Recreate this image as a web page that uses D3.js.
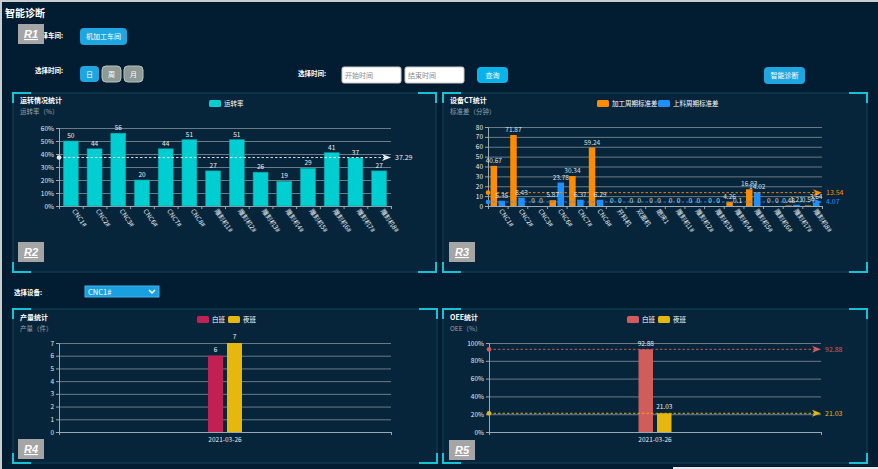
<!DOCTYPE html>
<html><head><meta charset="utf-8">
<script src="https://cdn.jsdelivr.net/npm/d3@7"></script>
<style>
html,body{margin:0;padding:0;background:#021d31;}
svg{display:block;font-family:"Noto Sans CJK SC","Noto Sans",sans-serif;}
</style></head>
<body>
<svg id="c" width="878" height="469"></svg>
<script>
// ---------- data ----------
const runCats = ["CNC1#","CNC2#","CNC3#","CNC6#","CNC7#","CNC8#","雕刻机1#","雕刻机2#","雕刻机3#","雕刻机4#","雕刻机5#","雕刻机6#","雕刻机7#","雕刻机8#"];
const runRate = [50,44,56,20,44,51,27,51,26,19,29,41,37,27];
const runTicks = [0,10,20,30,40,50,60];

const ctCats = ["CNC1#","CNC2#","CNC3#","CNC6#","CNC7#","CNC8#","开料机","双面机","磨床1","雕刻机1#","雕刻机2#","雕刻机3#","雕刻机4#","雕刻机5#","雕刻机6#","雕刻机7#","雕刻机8#"];
const ctProc = [40.67,71.87,0,5.87,30.34,59.24,0,0,0,0,0,0,4.26,16.93,0,0.48,0.54];
const ctLoad = [5.35,8.43,0,23.78,6.37,6.29,0,0,0,0,0,0,0.10,14.02,0,1.21,3.64];
const ctTicks = [0,10,20,30,40,50,60,70,80];

const outDates = ["2021-03-26"];
const outDay = [6];
const outNight = [7];
const outTicks = [0,1,2,3,4,5,6,7];

const oeeDates = ["2021-03-26"];
const oeeDay = [92.88];
const oeeNight = [21.03];
const oeeTicks = [0,20,40,60,80,100];

// ---------- style ----------
const pageBg = "#021d31", panelBg = "#07253a", panelBorder = "#134457", cornerCol = "#12c3d6";
const gridCol = "#6a7b87", axisCol = "#9aa8b2", tickText = "#e6ecef";
const svg = d3.select("#c");
svg.append("rect").attr("width",878).attr("height",469).attr("fill",pageBg);
svg.append("rect").attr("x",0).attr("y",0).attr("width",878).attr("height",2).attr("fill","#c9cdd0");
svg.append("rect").attr("x",0).attr("y",0).attr("width",2).attr("height",469).attr("fill","#c9cdd0");
svg.append("rect").attr("x",673).attr("y",467).attr("width",205).attr("height",2).attr("fill","#e4e6e8");

// ---------- header ----------
svg.append("text").attr("x",5).attr("y",17).text("智能诊断").attr("fill","#fff").attr("font-size",10).attr("font-weight","bold");
function label(x,y,t){svg.append("text").attr("x",x).attr("y",y).text(t).attr("fill","#fff").attr("font-size",6.5).attr("font-weight","bold").attr("text-anchor","end");}
function btn(x,y,w,h,t,fill,stroke,tc){
  svg.append("rect").attr("x",x).attr("y",y).attr("width",w).attr("height",h).attr("rx",4).attr("fill",fill).attr("stroke",stroke||"none");
  svg.append("text").attr("x",x+w/2).attr("y",y+h/2+2.5).text(t).attr("fill",tc||"#fff").attr("font-size",7).attr("text-anchor","middle");
}
label(63,38,"选择车间:");
btn(80,28,47,17,"机加工车间","#1ea6e0");
label(63,73,"选择时间:");
btn(80,66,19,16,"日","#1ea6e0");
btn(102,66,19,16,"周","#8d9a96","#b9c4c0");
btn(124,66,19,16,"月","#8d9a96","#b9c4c0");
label(326,76,"选择时间:");
function input(x,t){
  svg.append("rect").attr("x",x).attr("y",67).attr("width",59).attr("height",16).attr("rx",2).attr("fill","#fff").attr("stroke","#c8c8c8");
  svg.append("text").attr("x",x+3).attr("y",78).text(t).attr("fill","#8a8a8a").attr("font-size",7);
}
input(342,"开始时间"); input(405,"结束时间");
btn(477,67,31,16,"查询","#0ab2ea");
btn(764,67,41,17,"智能诊断","#1ea6e0");
label(42,295,"选择设备:");
svg.append("rect").attr("x",85).attr("y",286).attr("width",74).attr("height",11).attr("fill","#1a9fe0").attr("stroke","#3fb4ea");
svg.append("text").attr("x",88).attr("y",294.5).text("CNC1#").attr("fill","#fff").attr("font-size",7.5);
svg.append("path").attr("d","M149,290 L152,293 L155,290").attr("fill","none").attr("stroke","#fff").attr("stroke-width",1.5);

// ---------- panels ----------
function panel(x,y,w,h){
  svg.append("rect").attr("x",x).attr("y",y).attr("width",w).attr("height",h).attr("fill",panelBg).attr("stroke",panelBorder).attr("stroke-width",1);
  const L=18,V=10,g=svg.append("g").attr("fill","none").attr("stroke",cornerCol).attr("stroke-width",2);
  g.append("path").attr("d",`M${x+L},${y} H${x} V${y+V}`);
  g.append("path").attr("d",`M${x+w-L},${y} H${x+w} V${y+V}`);
  g.append("path").attr("d",`M${x+L},${y+h} H${x} V${y+h-V}`);
  g.append("path").attr("d",`M${x+w-L},${y+h} H${x+w} V${y+h-V}`);
}
panel(13,93,423,179);
panel(443,93,424,179);
panel(13,309,424,154);
panel(443,309,424,154);

function titles(x,y,t,s){
  svg.append("text").attr("x",x).attr("y",y).text(t).attr("fill","#fff").attr("font-size",7).attr("font-weight","bold");
  svg.append("text").attr("x",x).attr("y",y+11).text(s).attr("fill","#95a3ad").attr("font-size",6.5);
}
function legend(items,y){
  items.forEach(it=>{
    svg.append("rect").attr("x",it.x).attr("y",y-6).attr("width",12).attr("height",7).attr("rx",1.5).attr("fill",it.c);
    svg.append("text").attr("x",it.x+15).attr("y",y).text(it.t).attr("fill","#fff").attr("font-size",6.5);
  });
}

// generic chart frame
function frame(x0,x1,yTop,yBot,cats,ticks,fmt,rot){
  const x = d3.scaleBand().domain(cats).range([x0,x1]);
  const y = d3.scaleLinear().domain([ticks[0],ticks[ticks.length-1]]).range([yBot,yTop]);
  // grid
  svg.append("g").attr("transform",`translate(${x0},0)`)
    .call(d3.axisLeft(y).tickValues(ticks).tickSize(-(x1-x0)).tickFormat(""))
    .call(g=>{g.select(".domain").remove();g.selectAll("line").attr("stroke",gridCol).attr("stroke-width",1);});
  // y axis
  svg.append("g").attr("transform",`translate(${x0},0)`)
    .call(d3.axisLeft(y).tickValues(ticks).tickSize(3).tickPadding(2).tickFormat(fmt))
    .call(g=>{g.select(".domain").attr("stroke",axisCol);g.selectAll("line").attr("stroke",axisCol);
      g.selectAll("text").attr("fill",tickText).attr("font-size",6.5).attr("font-family","Noto Sans CJK SC");});
  // x axis line + boundary ticks
  const xb = d3.scaleLinear().domain([0,cats.length]).range([x0,x1]);
  svg.append("g").attr("transform",`translate(0,${yBot})`)
    .call(d3.axisBottom(xb).tickValues(d3.range(cats.length+1)).tickSize(3).tickFormat(""))
    .call(g=>{g.select(".domain").attr("stroke",axisCol);g.selectAll("line").attr("stroke",axisCol);});
  // labels
  const lab = svg.append("g").attr("transform",`translate(0,${yBot})`)
    .call(d3.axisBottom(x).tickSize(0).tickPadding(rot?4:5))
    .call(g=>{g.select(".domain").remove();
      g.selectAll("text").attr("fill",tickText).attr("font-size",6.5).attr("font-family","Noto Sans CJK SC");});
  if(rot){
    lab.selectAll(".tick text").attr("text-anchor","start").attr("dy",0).attr("y",0)
      .attr("transform","translate(1,5) rotate(55)");
  }
  return {x,y};
}
function markLine(x0,x1,y,v,col,labCol){
  const yy=y(v);
  svg.append("line").attr("x1",x0).attr("x2",x1-6).attr("y1",yy).attr("y2",yy)
    .attr("stroke",col).attr("stroke-width",0.9).attr("stroke-dasharray","2.5,2");
  svg.append("circle").attr("cx",x0).attr("cy",yy).attr("r",2.3).attr("fill",col);
  svg.append("path").attr("d",`M${x1},${yy} L${x1-9},${yy-3.5} L${x1-6.5},${yy} L${x1-9},${yy+3.5} Z`).attr("fill",col);
  svg.append("text").attr("x",x1+4).attr("y",yy+2.5).text(d3.format(".2f")(v)).attr("fill",labCol||col).attr("font-size",7);
}
function valLabel(x,y,t,col){
  svg.append("text").attr("x",x).attr("y",y).text(t).attr("fill",col||"#e8eef0").attr("font-size",6.5).attr("text-anchor","middle");
}

// ---------- R2 运转情况统计 ----------
titles(20,103,"运转情况统计","运转率（%）");
legend([{x:209,c:"#00ced1",t:"运转率"}],106);
{
  const {x,y}=frame(59,391,128,206,runCats,runTicks,d=>d+"%",true);
  const bw=x.bandwidth()*0.63;
  svg.append("g").selectAll("rect").data(runRate).join("rect")
    .attr("x",(d,i)=>x(runCats[i])+x.bandwidth()/2-bw/2).attr("width",bw)
    .attr("y",d=>y(d)).attr("height",d=>y(0)-y(d)).attr("fill","#00ced1").attr("stroke","#0a9ea8").attr("stroke-width",0.6);
  runRate.forEach((d,i)=>valLabel(x(runCats[i])+x.bandwidth()/2,y(d)-3,d));
  markLine(59,391,y,d3.mean(runRate),"#e6eef2","#e6eef2");
}

// ---------- R3 设备CT统计 ----------
titles(450,103,"设备CT统计","标准差（分钟）");
legend([{x:597,c:"#ff8c00",t:"加工周期标准差"},{x:658,c:"#1e90ff",t:"上料周期标准差"}],106);
{
  const {x,y}=frame(488,822,127,206,ctCats,ctTicks,d=>d,true);
  const bw=6.5,gap=1.5;
  const cx=i=>x(ctCats[i])+x.bandwidth()/2;
  svg.append("g").selectAll("rect").data(ctProc).join("rect")
    .attr("x",(d,i)=>cx(i)-gap/2-bw).attr("width",bw)
    .attr("y",d=>y(d)).attr("height",d=>y(0)-y(d)).attr("fill","#ff8c00");
  svg.append("g").selectAll("rect").data(ctLoad).join("rect")
    .attr("x",(d,i)=>cx(i)+gap/2).attr("width",bw)
    .attr("y",d=>y(d)).attr("height",d=>y(0)-y(d)).attr("fill","#1e90ff");
  markLine(488,822,y,d3.mean(ctProc),"#ff8c00");
  markLine(488,822,y,d3.mean(ctLoad),"#1e90ff");
  ctProc.forEach((d,i)=>valLabel(cx(i)-gap/2-bw/2,y(d)-3,d,"#d8e0e4"));
  ctLoad.forEach((d,i)=>valLabel(cx(i)+gap/2+bw/2,y(d)-3,d,"#d8e0e4"));
}

// ---------- R4 产量统计 ----------
titles(20,320,"产量统计","产量（件）");
legend([{x:197,c:"#c21f55",t:"白班"},{x:228,c:"#e6b80f",t:"夜班"}],322);
{
  const {x,y}=frame(59,391,343,432,outDates,outTicks,d=>d,false);
  const bw=15,gap=4;
  const cx=i=>x(outDates[i])+x.bandwidth()/2;
  svg.append("g").selectAll("rect").data(outDay).join("rect")
    .attr("x",(d,i)=>cx(i)-gap/2-bw).attr("width",bw).attr("y",d=>y(d)).attr("height",d=>y(0)-y(d)).attr("fill","#c21f55");
  svg.append("g").selectAll("rect").data(outNight).join("rect")
    .attr("x",(d,i)=>cx(i)+gap/2).attr("width",bw).attr("y",d=>y(d)).attr("height",d=>y(0)-y(d)).attr("fill","#e6b80f");
  outDay.forEach((d,i)=>valLabel(cx(i)-gap/2-bw/2,y(d)-4,d));
  outNight.forEach((d,i)=>valLabel(cx(i)+gap/2+bw/2,y(d)-4,d));
}

// ---------- R5 OEE统计 ----------
titles(450,320,"OEE统计","OEE（%）");
legend([{x:627,c:"#d05c5c",t:"白班"},{x:658,c:"#e6b80f",t:"夜班"}],322);
{
  const {x,y}=frame(489,821,343,432,oeeDates,oeeTicks,d=>d+"%",false);
  const bw=14.5,gap=4;
  const cx=i=>x(oeeDates[i])+x.bandwidth()/2;
  svg.append("g").selectAll("rect").data(oeeDay).join("rect")
    .attr("x",(d,i)=>cx(i)-gap/2-bw).attr("width",bw).attr("y",d=>y(d)).attr("height",d=>y(0)-y(d)).attr("fill","#d05c5c");
  svg.append("g").selectAll("rect").data(oeeNight).join("rect")
    .attr("x",(d,i)=>cx(i)+gap/2).attr("width",bw).attr("y",d=>y(d)).attr("height",d=>y(0)-y(d)).attr("fill","#e6b80f");
  markLine(489,821,y,d3.mean(oeeDay),"#d05c5c");
  markLine(489,821,y,d3.mean(oeeNight),"#e6b80f");
  oeeDay.forEach((d,i)=>valLabel(cx(i)-gap/2-bw/2,y(d)-3,d));
  oeeNight.forEach((d,i)=>valLabel(cx(i)+gap/2+bw/2,y(d)-4,d));
}

// ---------- region tags ----------
function tag(x,y,t){
  svg.append("rect").attr("x",x).attr("y",y).attr("width",26).attr("height",20).attr("fill","#a5a5a5");
  svg.append("text").attr("x",x+13).attr("y",y+14).text(t).attr("fill","#fff").attr("font-size",11)
    .attr("font-weight","bold").attr("font-style","italic").attr("text-anchor","middle").attr("text-decoration","underline")
    .attr("font-family","Liberation Sans, sans-serif");
}
tag(18,24,"R1"); tag(18,242,"R2"); tag(449,242,"R3"); tag(18,439,"R4"); tag(449,440,"R5");
</script>
</body></html>
